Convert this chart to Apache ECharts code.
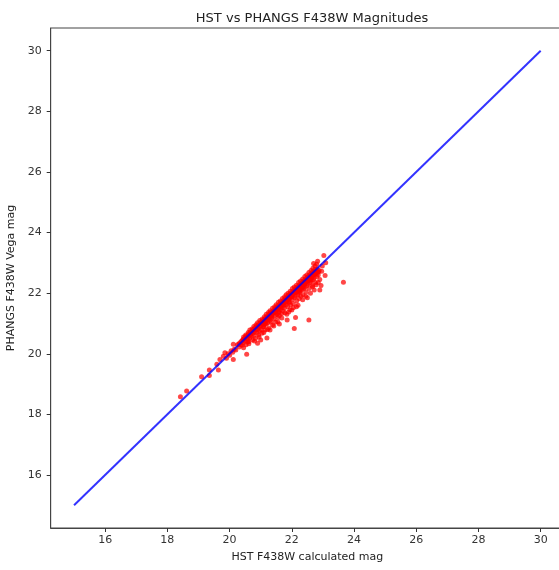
<!DOCTYPE html>
<html>
<head>
<meta charset="utf-8">
<script src="https://cdn.jsdelivr.net/npm/echarts@6/dist/echarts.min.js"></script>
<style>html,body{margin:0;padding:0;background:#fff}#c{width:559px;height:570px}</style>
</head>
<body>
<div id="c"></div>
<script>
const tickValues = [16, 18, 20, 22, 24, 26, 28, 30];
const lineX = [15, 30];
const lineY = [15, 30];
const hstMag = [
18.42,18.62,19.10,19.35,19.35,19.64,19.59,19.69,19.80,20.12,19.85,20.12,19.90,19.95,20.00,20.05,20.10,20.15,20.20,20.25,
20.30,20.31,20.33,20.36,20.38,20.40,20.42,20.44,20.45,20.48,20.50,20.52,20.53,20.55,20.56,20.58,20.60,20.62,20.63,20.65,
20.66,20.68,20.70,20.72,20.74,20.75,20.77,20.78,20.80,20.82,20.83,20.85,20.87,20.88,20.90,20.92,20.93,20.95,20.96,20.98,
21.00,21.01,21.03,21.04,21.05,21.07,21.08,21.10,21.11,21.13,21.14,21.15,21.17,21.18,21.20,21.20,21.22,21.23,21.25,21.26,
21.28,21.29,21.30,21.32,21.33,21.35,21.36,21.37,21.38,21.40,21.41,21.43,21.44,21.45,21.46,21.48,21.50,21.51,21.52,21.54,
21.55,21.56,21.58,21.60,21.60,21.62,21.63,21.65,21.66,21.67,21.69,21.70,21.71,21.72,21.74,21.75,21.76,21.78,21.80,21.81,
21.83,21.84,21.85,21.86,21.87,21.89,21.90,21.91,21.93,21.94,21.95,21.96,21.98,22.00,22.00,22.01,22.03,22.04,22.05,22.07,
22.08,22.09,22.10,22.11,22.12,22.13,22.15,22.16,22.18,22.19,22.20,22.21,22.23,22.24,22.25,22.26,22.28,22.29,22.30,22.32,
22.33,22.35,22.36,22.38,22.39,22.40,22.42,22.43,22.45,22.46,22.48,22.49,22.50,22.52,22.53,22.55,22.55,22.56,22.58,22.59,
22.60,22.62,22.63,22.65,22.66,22.67,22.68,22.69,22.70,22.72,22.73,22.75,22.76,22.78,22.80,22.82,22.83,22.85,22.88,22.90,
22.94,22.96,23.03,23.07,23.09,22.98,23.66,20.58,20.44,21.10,21.58,21.92,22.27,22.62,22.84,22.35,
20.45,20.52,20.60,20.65,20.72,20.78,20.85,20.90,20.97,21.05,21.12,21.18,21.25,21.30,21.38,21.45,21.50,21.57,21.63,21.70,
21.77,21.82,21.88,21.95,22.02,22.08,22.15,22.22,22.28,22.35,22.42,22.48,22.55,22.62,22.68,22.75,22.80,22.70,
20.62,20.80,20.95,21.10,21.22,21.42,21.55,21.68,21.78,21.90,22.05,22.20,22.35,22.45,22.60,22.72,22.85,22.90,22.78,22.50,
22.15,21.60,21.30,20.90,21.00,
22.12,22.18,22.22,22.27,22.32,22.37,22.41,22.44,22.50,22.54,22.58,22.64,22.70,22.74,22.79,22.86,
21.05,21.15,21.27,21.35,21.48,21.57,21.64,21.73,21.82,21.92,22.00
];
const phangsMag = [
18.58,18.77,19.24,19.28,19.46,19.46,19.65,19.81,19.92,19.81,20.03,20.31,19.85,20.00,19.95,20.10,20.05,20.15,20.12,20.30,
20.32,20.22,20.36,20.30,20.41,20.28,20.45,20.36,20.20,20.50,20.42,20.58,20.30,19.98,20.55,20.48,20.64,20.40,20.60,20.52,
20.70,20.65,20.58,20.74,20.45,20.68,20.80,20.60,20.72,20.86,20.50,20.78,20.90,20.70,20.82,20.95,20.62,20.88,20.75,21.02,
20.92,20.80,21.05,20.68,20.98,21.10,20.88,21.05,20.95,21.15,20.78,21.08,21.20,20.98,20.52,21.12,21.25,21.02,21.18,20.85,
21.30,21.10,21.22,21.35,21.05,21.28,21.20,21.38,20.95,21.33,21.42,21.15,21.38,21.47,21.28,21.05,21.45,21.52,21.30,21.48,
21.58,21.20,21.40,21.26,21.55,21.63,21.45,21.58,21.68,21.32,21.52,21.65,21.72,21.40,21.60,21.77,21.50,21.70,21.82,21.62,
21.75,21.30,21.11,21.87,21.55,21.80,21.92,21.70,21.85,21.45,21.97,21.62,21.90,21.44,22.02,21.78,21.95,22.06,21.65,22.00,
20.83,21.85,22.12,21.90,21.20,22.05,22.17,21.75,22.10,21.95,22.22,22.00,22.15,21.82,22.27,22.05,22.20,21.90,22.32,22.10,
22.25,22.37,21.95,22.30,22.15,22.42,22.20,22.35,22.47,22.05,22.40,22.25,22.52,22.30,22.45,21.11,22.57,22.15,22.50,22.35,
22.62,22.40,22.55,22.67,22.25,22.21,22.60,22.45,22.72,22.50,22.65,22.78,22.35,22.70,22.55,22.80,23.05,22.60,22.75,22.45,
22.25,22.72,23.24,22.58,23.00,22.90,22.36,20.40,20.48,20.90,21.36,21.70,22.08,22.44,22.70,22.18,
20.55,20.62,20.70,20.78,20.82,20.90,20.96,21.02,21.10,21.15,21.22,21.30,21.36,21.42,21.50,21.55,21.62,21.70,21.74,21.82,
21.88,21.95,22.00,22.06,22.15,22.20,22.26,22.35,22.40,22.47,22.55,22.60,22.68,22.75,22.82,22.90,22.95,22.98,
20.33,20.42,20.55,20.70,20.80,20.92,21.05,21.18,21.35,21.38,21.52,21.60,21.78,21.90,22.00,22.10,22.35,22.10,22.28,21.85,
21.55,20.98,20.78,20.35,20.45,
22.02,22.06,22.12,22.16,22.22,22.26,22.30,22.36,22.40,22.44,22.46,22.52,22.60,22.62,22.66,22.70,
20.98,21.00,21.15,21.25,21.36,21.48,21.54,21.64,21.70,21.80,21.88
];

const scatterData = hstMag.map((x, i) => [x, phangsMag[i]]);
const lineData = lineX.map((x, i) => [x, lineY[i]]);

const font = 'DejaVu Sans';
const axisCol = '#333';
const chart = echarts.init(document.getElementById('c'), null, {renderer: 'canvas'});
chart.setOption({
  animation: false,
  backgroundColor: '#fff',
  title: {
    text: 'HST vs PHANGS F438W Magnitudes',
    left: 307, top: 7, textAlign: 'center',
    textStyle: {fontFamily: font, fontSize: 13, fontWeight: 'normal', color: '#222'}
  },
  grid: {left: 50.7, right: -5, top: 28, bottom: 42, show: true, borderColor: '#444', borderWidth: 1,
         containLabel: false, outerBoundsMode: 'none'},
  xAxis: {
    type: 'value', min: 14.25, max: 30.75,
    name: 'HST F438W calculated mag', nameLocation: 'middle', nameGap: 24,
    nameTextStyle: {fontFamily: font, fontSize: 11, color: '#222'},
    axisLine: {show: true, lineStyle: {color: '#444'}},
    axisTick: {show: true, length: 4, customValues: tickValues, lineStyle: {color: axisCol}},
    axisLabel: {customValues: tickValues, fontFamily: font, fontSize: 11, color: axisCol, margin: 7},
    splitLine: {show: false}
  },
  yAxis: {
    type: 'value', min: 14.25, max: 30.75,
    name: 'PHANGS F438W Vega mag', nameLocation: 'middle', nameGap: 27, nameRotate: 90,
    nameTextStyle: {fontFamily: font, fontSize: 11, color: '#222'},
    axisLine: {show: true, lineStyle: {color: '#444'}},
    axisTick: {show: true, length: 4, customValues: tickValues, lineStyle: {color: axisCol}},
    axisLabel: {customValues: tickValues, fontFamily: font, fontSize: 11, color: axisCol, margin: 9},
    splitLine: {show: false}
  },
  series: [
    {
      type: 'scatter', data: scatterData, symbolSize: 5,
      itemStyle: {color: 'rgba(255,0,0,0.9)'}, z: 2
    },
    {
      type: 'line', data: lineData, showSymbol: false, symbol: 'none',
      lineStyle: {color: 'rgba(0,0,255,0.8)', width: 2}, z: 3
    }
  ]
});
</script>
</body>
</html>
